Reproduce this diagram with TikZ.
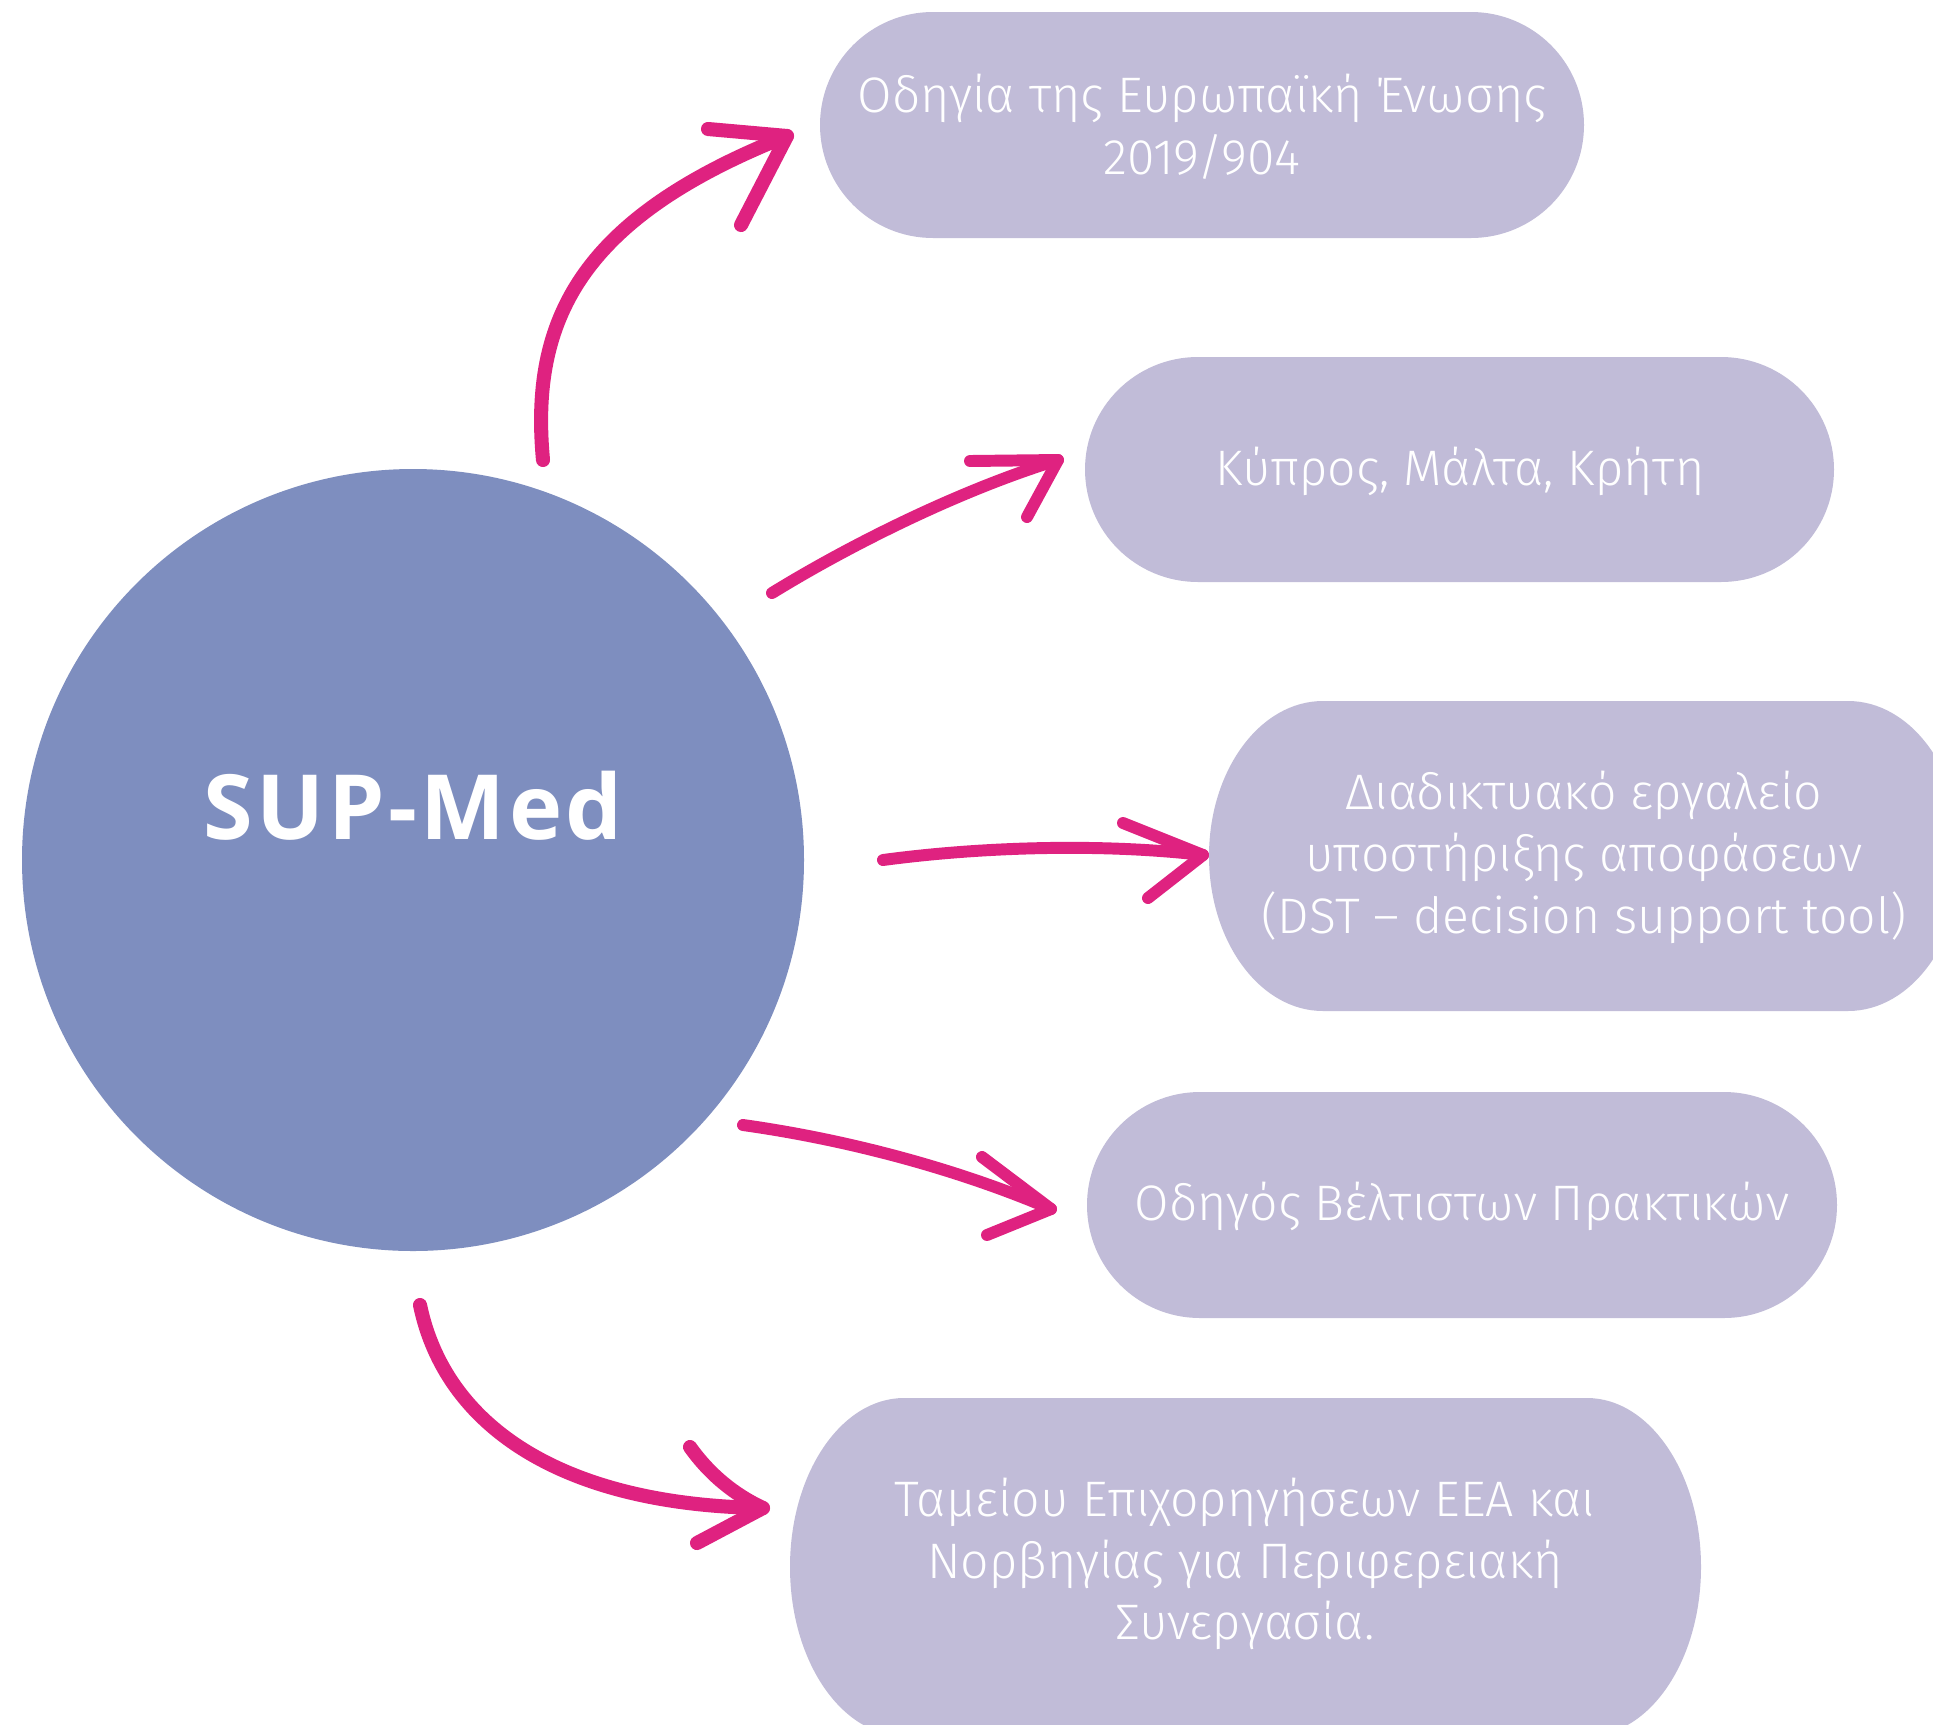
\documentclass[tikz,border=0pt]{standalone}
\usepackage{fontspec}
\newfontfamily\boxfont{Fira Sans Light}
\newfontfamily\titlefont{Open Sans}[LetterSpace=4.0]
\definecolor{circc}{HTML}{7E8EBF}
\definecolor{boxc}{HTML}{C1BCD8}
\definecolor{arrc}{HTML}{DF2280}
\newcommand\pillshape[5]{%
  \fill[boxc] ({#1+#5},#2) -- ({#3-#5},#2)
    arc[start angle=90,end angle=-90,x radius={#5*0.025cm},y radius={(#4-#2)/2*0.025cm}]
    -- ({#1+#5},#4)
    arc[start angle=270,end angle=90,x radius={#5*0.025cm},y radius={(#4-#2)/2*0.025cm}]
    -- cycle;}
\tikzset{
  arrline/.style={draw=arrc, line width=8.5pt, line cap=round, line join=round},
  boxtext/.style={text=white, font=\boxfont\fontsize{35.5}{44}\selectfont, align=center, inner sep=0pt},
}
\begin{document}
\begin{tikzpicture}[x=0.025cm,y=-0.025cm]
\useasboundingbox (0,0) rectangle (1933,1724);
\fill[white] (0,0) rectangle (1933,1724);
\clip (0,0) rectangle (1933,1724);
% circle
\node[circle, fill=circc, minimum size={782*0.025cm}, inner sep=0pt] (c) at (413,860) {};
\node[text=white, font=\titlefont\bfseries\fontsize{64}{70}\selectfont, inner sep=0pt] (title) at (413,806) {SUP-Med};
% boxes
\pillshape{820}{12}{1584}{238}{113}
\node[boxtext] (b1) at (1202,127) {Οδηγία της Ευρωπαϊκή Ένωσης\\2019/904};
\pillshape{1085}{357}{1834}{582}{113}
\node[boxtext] (b2) at (1460,471) {Κύπρος, Μάλτα, Κρήτη};
\pillshape{1209}{701}{1962}{1011}{114}
\node[boxtext] (b3) at (1584,857) {Διαδικτυακό εργαλείο\\υποστήριξης αποφάσεων\\(DST – decision support tool)};
\pillshape{1087}{1092}{1837}{1318}{113}
\node[boxtext] (b4) at (1462,1206) {Οδηγός Βέλτιστων Πρακτικών};
\pillshape{790}{1398}{1701}{1736}{114}
\node[boxtext] (b5) at (1245,1564) {Ταμείου Επιχορηγήσεων EEA και\\Νορβηγίας για Περιφερειακή\\Συνεργασία.};
% arrow 1
\coordinate (a1s) at (543,460);
\coordinate (a1t) at (787,136);
\coordinate (a1u) at (708,129);
\coordinate (a1d) at (741,225);
\draw[arrline, line width=10pt] (a1s) .. controls (530,320) and (580,218) .. (a1t);
\draw[arrline, line width=10pt] (a1u) -- (a1t) -- (a1d);
% arrow 2
\coordinate (a2s) at (772,593);
\coordinate (a2t) at (1058,460);
\coordinate (a2u) at (970,461);
\coordinate (a2d) at (1027,517);
\draw[arrline] (a2s) .. controls (850,545) and (960,490) .. (a2t);
\draw[arrline] (a2u) -- (a2t) -- (a2d);
% arrow 3
\coordinate (a3s) at (883,860);
\coordinate (a3t) at (1203,855);
\coordinate (a3u) at (1123,823);
\coordinate (a3d) at (1148,898);
\draw[arrline] (a3s) .. controls (980,847) and (1100,843) .. (a3t);
\draw[arrline] (a3u) -- (a3t) -- (a3d);
% arrow 4
\coordinate (a4s) at (743,1125);
\coordinate (a4t) at (1051,1209);
\coordinate (a4u) at (982,1157);
\coordinate (a4d) at (987,1235);
\draw[arrline] (a4s) .. controls (850,1140) and (960,1170) .. (a4t);
\draw[arrline] (a4u) -- (a4t) -- (a4d);
% arrow 5
\coordinate (a5s) at (420,1305);
\coordinate (a5t) at (763,1508);
\coordinate (a5u) at (690,1447);
\coordinate (a5d) at (697,1543);
\draw[arrline, line width=10pt] (a5s) .. controls (445,1425) and (560,1505) .. (a5t);
\draw[arrline, line width=10pt] (a5u) .. controls (710,1475) and (735,1495) .. (a5t) -- (a5d);
\end{tikzpicture}
\end{document}
